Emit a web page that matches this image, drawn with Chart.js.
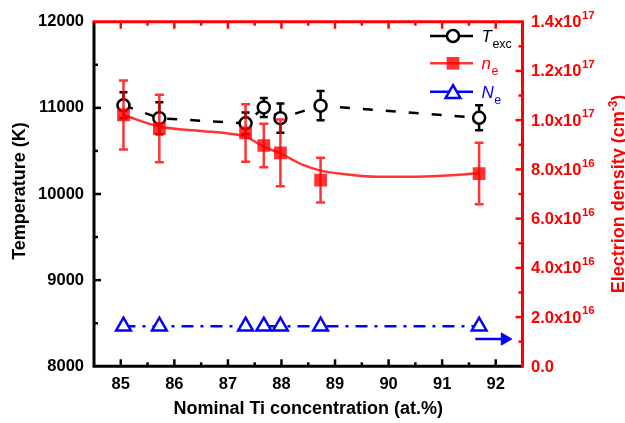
<!DOCTYPE html>
<html><head><meta charset="utf-8">
<script src="https://cdn.jsdelivr.net/npm/chart.js@4.4.1/dist/chart.umd.min.js"></script>
<style>html,body{margin:0;padding:0;background:#fff;}#wrap{width:625px;height:423px;position:relative;}</style>
</head><body><div id="wrap"><canvas id="c" width="625" height="423"></canvas></div>
<script>
// ---- data ----
const concentration = [85.05, 85.72, 87.33, 87.67, 87.98, 88.73, 91.69];
const temperature = [11030, 10880, 10820, 11005, 10880, 11025, 10885];
const temperatureErr = [150, 185, 125, 110, 170, 170, 145];
const electronDensity = [1.021e17, 9.66e16, 9.48e16, 8.97e16, 8.67e16, 7.56e16, 7.83e16];
const electronDensityErr = [1.4e16, 1.37e16, 1.17e16, 0.88e16, 1.36e16, 0.91e16, 1.25e16];
const heavyDensity = [1.63e16, 1.63e16, 1.63e16, 1.63e16, 1.63e16, 1.63e16, 1.63e16];
const fitConcentration = [85.05, 85.72, 86.5, 87.0, 87.33, 87.67, 87.98, 88.4, 88.73, 89.2, 89.8, 90.4, 91.0, 91.69];
const fitDensity = [1.021e17, 9.74e16, 9.56e16, 9.46e16, 9.33e16, 8.92e16, 8.65e16, 8.18e16, 7.95e16, 7.80e16, 7.70e16, 7.70e16, 7.74e16, 7.84e16];
const arrowConcentration = [91.62, 92.17];
const arrowDensity = [1.11e16, 1.11e16];
const xTicks = [85, 86, 87, 88, 89, 90, 91, 92];
const xRange = [84.5, 92.5];
const tempRange = [8000, 12000];
const densityRange = [0, 1.4e17];

const FONT = "'Liberation Sans', Arial, sans-serif";
const RED = 'rgba(255,0,0,0.8)';
const pts = (xs, ys) => xs.map((x, i) => ({x, y: ys[i]}));

const decor = {
  id: 'decor',
  beforeDatasetDraw(chart, args) {
    const ds = chart.data.datasets[args.index];
    if (!ds.errors) return;
    const ctx = chart.ctx, xs = chart.scales.x, ys = chart.scales[ds.yAxisID];
    ctx.save();
    ctx.strokeStyle = ds.errColor; ctx.lineWidth = 2.5; ctx.setLineDash([]);
    ds.data.forEach((p, i) => {
      const x = xs.getPixelForValue(p.x);
      const t = ys.getPixelForValue(p.y + ds.errors[i]);
      const b = ys.getPixelForValue(p.y - ds.errors[i]);
      const w = ds.capHalf;
      ctx.beginPath();
      ctx.moveTo(x, t); ctx.lineTo(x, b);
      ctx.moveTo(x - w, t); ctx.lineTo(x + w, t);
      ctx.moveTo(x - w, b); ctx.lineTo(x + w, b);
      ctx.stroke();
    });
    ctx.restore();
  },
  afterDraw(chart) {
    const ctx = chart.ctx, a = chart.chartArea;
    const sx = chart.scales.x, sy = chart.scales.y, sr = chart.scales.y1;
    ctx.save();
    ctx.setLineDash([]);
    ctx.lineCap = 'butt';
    // frame
    ctx.lineWidth = 3;
    ctx.strokeStyle = '#000';
    ctx.beginPath();
    ctx.moveTo(a.left, a.top); ctx.lineTo(a.left, a.bottom); ctx.lineTo(a.right, a.bottom);
    ctx.stroke();
    ctx.strokeStyle = '#f00';
    ctx.beginPath();
    ctx.moveTo(a.left - 1.5, a.top); ctx.lineTo(a.right, a.top); ctx.lineTo(a.right, a.bottom + 1.5);
    ctx.stroke();
    // tick marks (inward)
    ctx.lineWidth = 2.5;
    const major = 7, minor = 4;
    const xt = sx.ticks.map(t => t.value);
    const xAll = [];
    xt.forEach((v, i) => { xAll.push([v, true]); if (i < xt.length - 1) xAll.push([(v + xt[i + 1]) / 2, false]); });
    xAll.push([xt[xt.length - 1] + 0.5, false]);
    xAll.unshift([xt[0] - 0.5, false]);
    xAll.forEach(([v, m]) => {
      const x = sx.getPixelForValue(v);
      if (x <= a.left + 2 || x >= a.right - 2) return;
      const L = m ? major : minor;
      ctx.strokeStyle = '#000';
      ctx.beginPath(); ctx.moveTo(x, a.bottom); ctx.lineTo(x, a.bottom - L); ctx.stroke();
      ctx.strokeStyle = '#f00';
      ctx.beginPath(); ctx.moveTo(x, a.top); ctx.lineTo(x, a.top + L); ctx.stroke();
    });
    const yt = sy.ticks.map(t => t.value);
    ctx.strokeStyle = '#000';
    yt.forEach((v, i) => {
      const list = [[v, true]];
      if (i < yt.length - 1) list.push([(v + yt[i + 1]) / 2, false]);
      list.forEach(([val, m]) => {
        const y = sy.getPixelForValue(val);
        if (y <= a.top + 2 || y >= a.bottom - 2) return;
        ctx.beginPath(); ctx.moveTo(a.left, y); ctx.lineTo(a.left + (m ? major : minor), y); ctx.stroke();
      });
    });
    const rt = sr.ticks.map(t => t.value);
    ctx.strokeStyle = '#f00';
    rt.forEach((v, i) => {
      const list = [[v, true]];
      if (i < rt.length - 1) list.push([(v + rt[i + 1]) / 2, false]);
      list.forEach(([val, m]) => {
        const y = sr.getPixelForValue(val);
        if (y <= a.top + 2 || y >= a.bottom - 2) return;
        ctx.beginPath(); ctx.moveTo(a.right, y); ctx.lineTo(a.right - (m ? major : minor), y); ctx.stroke();
      });
    });
    // right tick labels with superscript exponent
    ctx.fillStyle = '#f00';
    ctx.textBaseline = 'middle';
    ctx.textAlign = 'left';
    rt.forEach(v => {
      const y = sr.getPixelForValue(v);
      const lx = a.right + 8.5;
      const k = Math.round(v / 1e16);
      ctx.font = 'bold 16.5px ' + FONT;
      if (k === 0) { ctx.fillText('0.0', lx, y + 1); return; }
      const exp = k >= 10 ? 17 : 16;
      const mant = (k >= 10 ? k / 10 : k).toFixed(1) + 'x10';
      ctx.fillText(mant, lx, y + 1);
      const w = ctx.measureText(mant).width;
      ctx.font = 'bold 11.5px ' + FONT;
      ctx.fillText(String(exp), lx + w + 0.5, y - 6);
    });
    // axis titles
    ctx.textBaseline = 'alphabetic';
    ctx.fillStyle = '#000';
    ctx.font = 'bold 18px ' + FONT;
    ctx.textAlign = 'center';
    ctx.fillText('Nominal Ti concentration (at.%)', (a.left + a.right) / 2, 413.5);
    ctx.save();
    ctx.translate(25, (a.top + a.bottom) / 2 - 3);
    ctx.rotate(-Math.PI / 2);
    ctx.fillText('Temperature (K)', 0, 0);
    ctx.restore();
    // right title
    ctx.save();
    ctx.fillStyle = '#f00';
    ctx.translate(623.5, (a.top + a.bottom) / 2);
    ctx.rotate(-Math.PI / 2);
    ctx.textAlign = 'left';
    const t1 = 'Electrion density (cm', t2 = '-3', t3 = ')';
    ctx.font = 'bold 18px ' + FONT;
    const w1 = ctx.measureText(t1).width, w3 = ctx.measureText(t3).width;
    ctx.font = 'bold 12px ' + FONT;
    const w2 = ctx.measureText(t2).width;
    let x0 = -(w1 + w2 + w3) / 2;
    ctx.font = 'bold 18px ' + FONT;
    ctx.fillText(t1, x0, 0);
    ctx.font = 'bold 12px ' + FONT;
    ctx.fillText(t2, x0 + w1, -7);
    ctx.font = 'bold 18px ' + FONT;
    ctx.fillText(t3, x0 + w1 + w2, 0);
    ctx.restore();
    // legend
    const rows = [
      {color: '#000', style: 'circle', r: 6, fill: '#fff', main: 'T', sub: 'exc', dy: a.top + 14.3},
      {color: RED, style: 'rect', r: 9, fill: RED, main: 'n', sub: 'e', dy: a.top + 41.6, text: '#f00'},
      {color: '#00f', style: 'triangle', r: 8.5, fill: '#fff', main: 'N', sub: 'e', dy: a.top + 70, tri: true}
    ];
    rows.forEach(r => {
      const y = r.dy;
      const x1 = a.right - 92.5, xc = a.right - 69.5, x2 = a.right - 49.5;
      ctx.strokeStyle = r.color; ctx.lineWidth = 2.5;
      ctx.beginPath(); ctx.moveTo(x1, y); ctx.lineTo(x2, y); ctx.stroke();
      ctx.fillStyle = r.fill; ctx.strokeStyle = r.color; ctx.lineWidth = 2.5;
      Chart.helpers.drawPoint(ctx, {pointStyle: r.style, radius: r.r, rotation: 0, borderWidth: r.style === 'rect' ? 0 : 2.5}, xc, r.tri ? y + 2 : y);
      ctx.fillStyle = r.text || r.color;
      ctx.textAlign = 'left';
      ctx.font = 'italic 17px ' + FONT;
      const tx = a.right - 41;
      ctx.fillText(r.main, tx, y + 6);
      const mw = ctx.measureText(r.main).width;
      ctx.font = '12.5px ' + FONT;
      ctx.fillText(r.sub, tx + mw + 0.5, y + 12);
    });
    ctx.restore();
  }
};

new Chart(document.getElementById('c'), {
  type: 'scatter',
  data: {
    datasets: [
      {
        label: 'arrow', data: pts(arrowConcentration, arrowDensity), yAxisID: 'y1', order: 1,
        showLine: true, borderColor: '#00f', backgroundColor: '#00f', borderWidth: 2.5,
        pointStyle: 'triangle', pointRotation: 90, pointRadius: [0, 7], pointBorderWidth: 1
      },
      {
        label: 'Ne', data: pts(concentration, heavyDensity), yAxisID: 'y1', order: 2,
        showLine: true, borderColor: '#00f', borderWidth: 2.5, borderDash: [12, 7, 3, 7],
        pointStyle: 'triangle', pointRadius: 8.5, pointBorderWidth: 2.5,
        pointBackgroundColor: '#fff', pointBorderColor: '#00f'
      },
      {
        label: 'ne', data: pts(concentration, electronDensity), yAxisID: 'y1', order: 3,
        showLine: false, pointStyle: 'rect', pointRadius: 9, pointBorderWidth: 0,
        pointBackgroundColor: RED, pointBorderColor: RED,
        errors: electronDensityErr, errColor: RED, capHalf: 4.5
      },
      {
        label: 'fit', data: pts(fitConcentration, fitDensity), yAxisID: 'y1', order: 4,
        showLine: true, borderColor: RED, borderWidth: 2.5, pointRadius: 0,
        cubicInterpolationMode: 'monotone'
      },
      {
        label: 'Texc', data: pts(concentration, temperature), yAxisID: 'y', order: 5,
        showLine: true, borderColor: '#000', borderWidth: 2.5, borderDash: [10, 13],
        pointStyle: 'circle', pointRadius: 6, pointBorderWidth: 2.5,
        pointBackgroundColor: '#fff', pointBorderColor: '#000',
        errors: temperatureErr, errColor: '#000', capHalf: 4
      }
    ]
  },
  options: {
    responsive: false, animation: false, devicePixelRatio: 1,
    layout: {padding: {top: 21.7, left: 0, right: 0, bottom: 0}},
    plugins: {legend: {display: false}, tooltip: {enabled: false}},
    elements: {line: {tension: 0}},
    scales: {
      x: {
        type: 'linear', position: 'bottom', min: xRange[0], max: xRange[1],
        afterBuildTicks: s => { s.ticks = xTicks.map(v => ({value: v})); },
        ticks: {color: '#000', padding: 8,
          font: {family: FONT, size: 16.5, weight: 'bold'}, callback: v => String(v)},
        grid: {display: false, drawTicks: false}, border: {display: false},
        afterFit: s => { s.height = 56.7; }
      },
      y: {
        type: 'linear', position: 'left', min: tempRange[0], max: tempRange[1],
        ticks: {stepSize: 1000, color: '#000', padding: 10,
          font: {family: FONT, size: 16.5, weight: 'bold'}, callback: v => String(v)},
        grid: {display: false, drawTicks: false}, border: {display: false},
        afterFit: s => { s.width = 94; }
      },
      y1: {
        type: 'linear', position: 'right', min: densityRange[0], max: densityRange[1],
        ticks: {stepSize: 2e16, display: false},
        grid: {display: false, drawTicks: false}, border: {display: false},
        afterFit: s => { s.width = 102.5; }
      }
    }
  },
  plugins: [decor]
});
</script>
</body></html>
